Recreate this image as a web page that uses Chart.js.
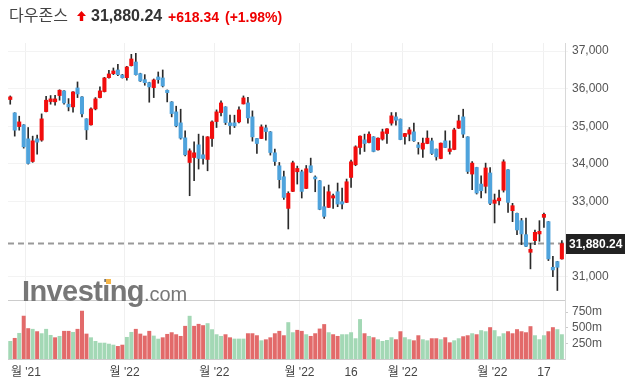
<!DOCTYPE html>
<html>
<head>
<meta charset="utf-8">
<script src="https://cdn.jsdelivr.net/npm/chart.js@4.4.1/dist/chart.umd.min.js"></script>
<style>
  html, body { margin: 0; padding: 0; background: #fff; }
  #wrap { position: relative; width: 629px; height: 388px; overflow: hidden; font-family: Arial, "Liberation Sans", sans-serif; }
  canvas { position: absolute; left: 0; top: 0; }
  .hd { position: absolute; white-space: nowrap; line-height: 1; }
  #name { left: 9px; top: 6px; font-family: "Noto Sans CJK KR", sans-serif; font-size: 16px; color: #444; }
  #price { left: 91px; top: 8px; font-size: 16px; font-weight: bold; color: #333; }
  #chg { left: 168px; top: 9.5px; font-size: 14px; font-weight: bold; color: #ee0000; }
  #pct { left: 225px; top: 9.5px; font-size: 14px; font-weight: bold; color: #ee0000; }
  #arrow { position: absolute; left: 77px; top: 11px; }
  #wm { position: absolute; left: 22px; top: 275px; display: flex; align-items: baseline; color: #777; z-index: 2; }
  #wm .a { font-size: 29px; font-weight: bold; letter-spacing: -0.6px; }
  #wm .b { font-size: 20px; }
  #dot { position: absolute; left: 106px; top: 279px; width: 5px; height: 5px; background: #f5b64a; z-index: 3; }
</style>
</head>
<body>
<div id="wrap">
  <canvas id="cPrice" width="629" height="388"></canvas>
  <canvas id="cVol" width="629" height="388"></canvas>
  <span class="hd" id="name">다우존스</span>
  <svg id="arrow" width="9" height="10" viewBox="0 0 9 10"><path d="M4.5 0 L9 5 L6.2 5 L6.2 10 L2.8 10 L2.8 5 L0 5 Z" fill="#ee0000"/></svg>
  <span class="hd" id="price">31,880.24</span>
  <span class="hd" id="chg">+618.34</span>
  <span class="hd" id="pct">(+1.98%)</span>
  <div id="wm"><span class="a">Investing</span><span class="b">.com</span></div>
  <div id="dot"></div>
</div>
<script>
// daily candles, oldest first
const opens = [35710,35355,34992,35037,34665,34063,34665,34631,35390,35656,35650,35816,35939,35586,35514,36018,35780,35196,35037,35461,
  35762,35921,36292,36398,36496,36363,36292,36611,36708,36398,36239,36159,36027,36310,36284,35957,35647,35382,35090,34692,
  34037,34169,34506,34241,34117,34674,35125,35364,35514,35090,35090,35116,35594,35620,35249,34674,34674,34957,34851,34294,
  33949,33657,32816,33268,33790,33790,33347,33949,33650,33550,32861,32843,33092,33259,32994,32976,33639,33976,34435,34639,
  34568,34718,34373,34657,34807,35082,35249,35188,34727,34790,34851,34506,34392,34541,34612,34392,34143,34612,34329,34382,
  34948,35249,34718,33729,33904,33463,33403,33758,32951,33020,33300,33843,32755,32684,32490,32118,31649,31959,32137,32578,
  32463,31251,31402,31473]
const highs = [35806,35360,35267,35045,34966,34737,34764,35328,35798,35816,35820,35970,35950,35735,35920,36178,35790,35200,35488,35762,
  36045,36300,36488,36549,36647,36380,36590,36912,36939,36410,36372,36170,36257,36443,36496,35965,35655,35533,35453,34878,
  34400,34586,34790,34737,34725,35143,35435,35673,35520,35294,35294,35514,35806,35771,35408,34680,35037,35028,34860,34392,
  34037,33808,33259,34073,33941,33834,33957,34153,33680,33560,33392,33437,33198,33490,33357,33596,34100,34480,34745,34790,
  34851,34725,34690,34923,34935,35364,35364,35195,34810,34966,35082,34568,34684,34878,34684,34395,34555,34878,34612,34948,
  35294,35453,34722,34063,33910,33684,34020,33904,33198,33304,34108,33850,32951,32690,32551,32561,31888,32243,32490,32693,
  32470,31543,31410,31959]
const lows = [35586,34737,34896,34418,33994,34040,34259,34600,35380,35586,35560,35692,35586,35408,35374,35762,35249,34647,35030,35435,
  35750,35910,36280,36372,36345,36280,36222,36600,36360,36190,36090,35639,35762,36143,36045,35647,35249,34984,34657,34214,
  33153,33550,33862,33994,33816,34461,34966,35276,35045,34790,34966,35090,35590,35082,34604,34276,34670,34630,34233,33957,
  33357,33055,32269,33260,33463,33092,33340,33771,33259,32780,32551,32840,32816,32861,32800,32970,33374,33950,34259,34329,
  34560,34320,34365,34630,34541,35028,35028,34640,34524,34612,34594,34259,34170,34535,34249,34100,34135,34430,34259,34375,
  34940,34700,33745,33312,33198,33092,33225,32914,32429,32906,33250,32710,32464,32118,31853,31800,31209,31853,31941,32313,
  31429,31004,30633,31465]
const closes = [35780,34896,35116,34453,34010,34612,34577,35196,35692,35727,35727,35957,35620,35514,35912,35859,35329,34904,35461,35727,
  35939,36284,36390,36470,36372,36292,36576,36788,36372,36204,36159,36045,36231,36239,36071,35894,35337,35010,34684,34241,
  34347,34294,34143,34143,34718,35116,35382,35620,35098,35019,35010,35435,35753,35222,34718,34541,34984,34859,34302,34063,
  33580,33108,33215,34028,33878,33268,33869,33780,33600,32790,32604,33259,33153,32931,32931,33524,34055,34453,34737,34541,
  34790,34329,34683,34851,34931,35276,35161,34647,34807,34904,34612,34435,34551,34684,34276,34188,34551,34435,34400,34904,
  35143,34790,33798,34020,33225,33286,33891,32951,33039,33092,34055,32976,32888,32243,32137,31808,31729,32180,32206,32658,
  31473,31181,31251,31880.24]
// volume in millions, and whether the day closed up (1) or down (0)
const volumes = [282,331,411,686,487,476,438,406,476,379,341,363,444,444,427,476,766,400,341,282,
  255,255,239,223,202,223,347,427,476,400,368,444,368,319,341,395,422,390,363,524,
  685,524,556,535,567,470,390,363,390,341,320,320,320,406,406,374,293,309,341,406,
  444,374,583,422,460,444,390,363,406,481,552,422,390,363,390,390,422,326,632,406,
  363,342,310,282,298,342,310,438,342,310,293,374,310,293,326,326,310,342,261,293,
  326,358,374,406,390,455,438,503,455,358,406,438,406,471,438,422,519,374,310,374,
  438,503,471,390]
const volUp = [1,0,1,0,0,1,0,1,1,1,0,1,0,0,1,0,0,0,1,1,
  1,1,1,1,0,0,1,1,0,0,0,0,1,1,0,0,0,0,0,0,
  1,0,0,0,1,1,1,1,0,0,1,1,1,0,0,0,1,0,0,0,
  0,0,1,1,0,0,1,0,0,0,0,1,0,0,1,1,1,1,1,0,
  1,0,1,1,1,1,0,0,1,1,0,0,1,1,0,0,1,0,0,1,
  1,0,0,1,0,1,1,0,1,1,1,0,0,0,0,0,0,1,1,1,
  0,0,1,1]
const tickAt = [3.5, 25.5, 45.5, 64.5, 76, 87.5, 107.5, 119]
const tickLabels = ["월 '21", "월 '22", "월 '22", "월 '22", "16", "월 '22", "월 '22", "17"]
const priceTicks = [31000, 33000, 34000, 35000, 36000, 37000]
const volTicks = [250, 500, 750]
const lastPrice = 31880.24

const UP = '#f20d0d', DOWN = '#4fa3dc', WICK = '#2a2a2a'
const VUP = '#a3d8b5', VDOWN = '#e26a6a'
const FONT = 'Arial, "Liberation Sans", "Noto Sans CJK KR", sans-serif'
Chart.defaults.font.family = FONT
Chart.defaults.font.size = 12

const idx = closes.map((_, i) => i)

// dashed last-price line + dark price box on the axis
const lastPriceLine = {
  id: 'lastPriceLine',
  beforeDatasetsDraw(chart) {
    const { ctx, chartArea } = chart
    const y = chart.scales.y.getPixelForValue(lastPrice)
    ctx.save()
    ctx.strokeStyle = '#9a9a9a'
    ctx.lineWidth = 2
    ctx.setLineDash([6, 4])
    ctx.beginPath()
    ctx.moveTo(chartArea.left, y)
    ctx.lineTo(chartArea.right, y)
    ctx.stroke()
    ctx.restore()
  },
  afterDraw(chart) {
    const { ctx, chartArea } = chart
    const y = Math.round(chart.scales.y.getPixelForValue(lastPrice))
    ctx.save()
    ctx.fillStyle = '#222'
    ctx.fillRect(chartArea.right + 1, y - 10, 59, 20)
    ctx.fillStyle = '#fff'
    ctx.font = 'bold 12px ' + FONT
    ctx.textBaseline = 'middle'
    ctx.fillText(lastPrice.toLocaleString('en-US', { minimumFractionDigits: 2 }), chartArea.right + 4, y + 1)
    ctx.restore()
  }
}

const xAxis = (showLabels) => ({
  type: 'linear',
  min: -0.5,
  max: 123.7,
  offset: false,
  afterBuildTicks: ax => { ax.ticks = tickAt.map(v => ({ value: v })) },
  afterFit: ax => { ax.height = showLabels ? 20 : 0 },
  ticks: {
    display: showLabels,
    autoSkip: false,
    maxRotation: 0,
    color: '#444',
    padding: 6,
    callback: (v, i) => tickLabels[i]
  },
  grid: { color: '#f0f0f0', drawTicks: false, offset: false },
  border: { color: '#cccccc' }
})

new Chart(document.getElementById('cPrice'), {
  type: 'bar',
  data: {
    datasets: [
      {
        data: idx.map(i => ({ x: i, y: [opens[i], closes[i]] })),
        backgroundColor: idx.map(i => closes[i] >= opens[i] ? UP : DOWN),
        barThickness: 3.4,
        grouped: false,
        order: 1
      },
      {
        data: idx.map(i => ({ x: i, y: [lows[i], highs[i]] })),
        backgroundColor: WICK,
        barThickness: 1,
        grouped: false,
        order: 2
      }
    ]
  },
  options: {
    responsive: false,
    animation: false,
    events: [],
    layout: { padding: { left: 8, top: 43, bottom: 88, right: 0 } },
    plugins: { legend: { display: false }, tooltip: { enabled: false } },
    scales: {
      x: xAxis(false),
      y: {
        position: 'right',
        min: 30381,
        max: 37213,
        afterBuildTicks: ax => { ax.ticks = priceTicks.map(v => ({ value: v })) },
        afterFit: ax => { ax.width = 64 },
        ticks: { color: '#555', padding: 4, callback: v => v.toLocaleString('en-US') },
        grid: { color: '#f3f3f3', tickLength: 3 },
        border: { color: '#d8d8d8' }
      }
    }
  },
  plugins: [lastPriceLine]
})

new Chart(document.getElementById('cVol'), {
  type: 'bar',
  data: {
    datasets: [{
      data: idx.map(i => ({ x: i, y: volumes[i] })),
      backgroundColor: idx.map(i => volUp[i] ? VUP : VDOWN),
      barThickness: 3.3
    }]
  },
  options: {
    responsive: false,
    animation: false,
    events: [],
    layout: { padding: { left: 8, top: 301, bottom: 9, right: 0 } },
    plugins: { legend: { display: false }, tooltip: { enabled: false } },
    scales: {
      x: xAxis(true),
      y: {
        position: 'right',
        min: 0,
        max: 927,
        afterBuildTicks: ax => { ax.ticks = volTicks.map(v => ({ value: v })) },
        afterFit: ax => { ax.width = 64 },
        ticks: { color: '#555', padding: 4, callback: v => v + 'm' },
        grid: { drawOnChartArea: false, color: '#cccccc', tickLength: 3 },
        border: { color: '#d8d8d8' }
      }
    }
  }
})
</script>
</body>
</html>
